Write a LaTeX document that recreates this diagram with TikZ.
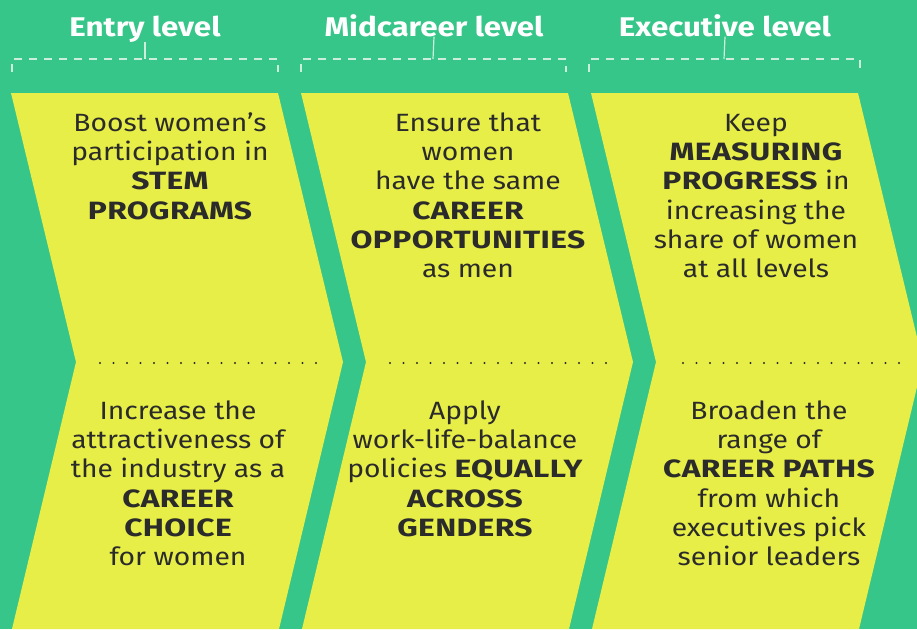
\documentclass[tikz,border=0pt]{standalone}
\usepackage{fontspec}
\setmainfont{Fira Sans}[FakeStretch=1.13]
\newfontfamily\kwfont{Fira Sans Bold}[FakeStretch=1.27,LetterSpace=1.5]
\newfontfamily\headfont{Fira Sans Bold}[FakeStretch=1.16]
\newcommand\kw[1]{{\kwfont #1}}
\definecolor{bggreen}{RGB}{55,198,137}
\definecolor{chyellow}{RGB}{231,238,71}
\definecolor{txt}{RGB}{43,43,43}
\definecolor{dashc}{RGB}{205,238,220}
\begin{document}
\begin{tikzpicture}[x=1pt,y=-1pt,
  head/.style={text=white, font=\headfont\fontsize{27}{30}\selectfont, inner sep=0pt, anchor=base},
  body/.style={text=txt, font=\fontsize{25}{29.3}\selectfont, align=center, inner sep=0pt, anchor=north},
  bracket/.style={draw=dashc, line width=1.2pt, dash pattern=on 8pt off 7pt},
  tick/.style={draw=dashc, line width=1.2pt},
  dotc/.style={fill=txt}]
\fill[bggreen] (0,0) rectangle (917,629);
\useasboundingbox (0,0) rectangle (917,629);
\begin{scope}
\clip (0,0) rectangle (917,629);
\foreach \o in {0,290,580}{
  \fill[chyellow] (11+\o,93) -- (278+\o,93) -- (343+\o,362) -- (279+\o,629) -- (12+\o,629) -- (76+\o,362) -- cycle;
}
\end{scope}
% headers
\node[head] (h1) at (145,36) {Entry level};
\node[head] (h2) at (434,36) {Midcareer level};
\node[head] (h3) at (725,36) {Executive level};
% brackets
\coordinate (b1) at (145,59);
\coordinate (b2) at (433,59);
\coordinate (b3) at (724,59);
\draw[bracket] (12,72) -- (12,59) -- (278,59) -- (278,72);
\draw[bracket] (301,72) -- (301,59) -- (566,59) -- (566,72);
\draw[bracket] (589,72) -- (589,59) -- (860,59) -- (860,72);
\draw[tick] (h1.south) -- (b1);
\draw[tick] (h2.south) -- (b2);
\draw[tick] (h3.south) -- (b3);
% dotted separators
\foreach \s in {100,390,683}{
  \foreach \i in {0,...,16}{
    \fill[dotc] (\s+13.5*\i,363) circle (1.1pt);
  }
}
% texts
\node[body] (t1) at (170,110.5) {\strut Boost women’s\\participation in\\\kw{STEM}\\\kw{PROGRAMS}};
\node[body] (t2) at (468,110.5) {\strut Ensure that\\women\\have the same\\\kw{CAREER}\\\kw{OPPORTUNITIES}\\as men};
\node[body] (t3) at (756,110.5) {\strut Keep\\\kw{MEASURING}\\\kw{PROGRESS} in\\increasing the\\share of women\\at all levels};
\node[body] (u1) at (178,398.5) {\strut Increase the\\attractiveness of\\the industry as a\\\kw{CAREER}\\\kw{CHOICE}\\for women};
\node[body] (u2) at (465,398.5) {\strut Apply\\work-life-balance\\policies \kw{EQUALLY}\\\kw{ACROSS}\\\kw{GENDERS}};
\node[body] (u3) at (769,398.5) {\strut Broaden the\\range of\\\kw{CAREER PATHS}\\from which\\executives pick\\senior leaders};
\end{tikzpicture}
\end{document}
